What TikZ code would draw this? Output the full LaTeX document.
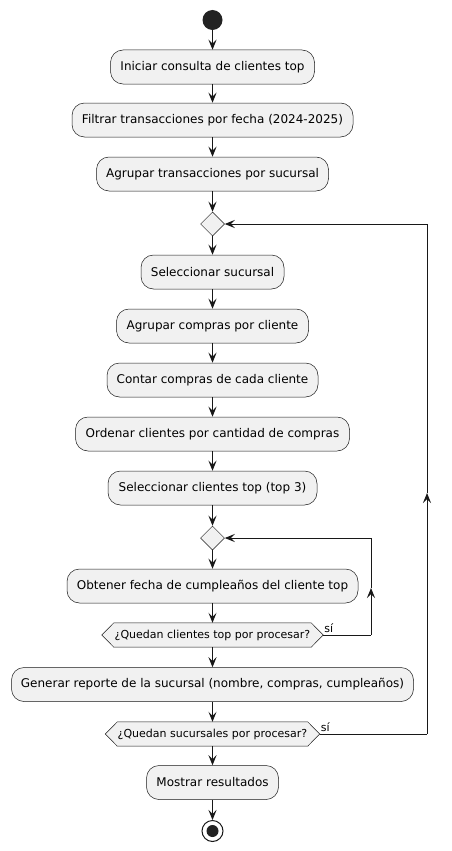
\documentclass[tikz,border=0pt]{standalone}
\usepackage{fontspec}
\setmainfont{DejaVu Sans}
\usetikzlibrary{arrows.meta,shapes.geometric}
\definecolor{boxfill}{HTML}{F1F1F1}
\definecolor{linec}{HTML}{181818}
\definecolor{startc}{HTML}{222222}
\tikzset{
  actbox/.style={draw=linec, fill=boxfill, line width=0.5pt, rounded corners=12.5pt,
    minimum height=34pt, inner sep=0pt, font=\fontsize{12}{14}\selectfont, text=black},
  decis/.style={diamond, draw=linec, fill=boxfill, line width=0.5pt, minimum width=24pt,
    minimum height=24pt, inner sep=0pt},
  hextext/.style={minimum height=24pt, inner sep=0pt, font=\fontsize{11}{13}\selectfont, text=black},
  hexshape/.style={draw=linec, fill=boxfill, line width=0.5pt},
  flow/.style={draw=linec, line width=1pt, -{Stealth[length=10pt,width=8pt,inset=4pt]}},
  plain/.style={draw=linec, line width=1pt},
  lbl/.style={font=\fontsize{11}{13}\selectfont, inner sep=0pt, anchor=south west, text=black}
}
\begin{document}
\begin{tikzpicture}[x=1pt,y=-1pt]
\useasboundingbox[fill=white] (0,0) rectangle (451,851);
\def\cx{212.5}
\node[circle, fill=startc, minimum size=20pt, inner sep=0pt] (start) at (\cx,20) {};
\node[actbox, minimum width=204pt] (b1) at (\cx,67) {Iniciar consulta de clientes top};
\node[actbox, minimum width=281pt] (b2) at (\cx,120) {Filtrar transacciones por fecha (2024-2025)};
\node[actbox, minimum width=232pt] (b3) at (\cx,174) {Agrupar transacciones por sucursal};
\node[decis] (d1) at (\cx,224) {};
\node[actbox, minimum width=143pt] (b4) at (\cx,272) {Seleccionar sucursal};
\node[actbox, minimum width=192pt] (b5) at (\cx,326) {Agrupar compras por cliente};
\node[actbox, minimum width=211pt] (b6) at (\cx,380) {Contar compras de cada cliente};
\node[actbox, minimum width=274pt] (b7) at (\cx,434) {Ordenar clientes por cantidad de compras};
\node[actbox, minimum width=209pt] (b8) at (\cx,488) {Seleccionar clientes top (top 3)};
\node[decis] (d2) at (\cx,538) {};
\node[actbox, minimum width=291pt] (b9) at (\cx,586) {Obtener fecha de cumpleaños del cliente top};
% hexagon 1
\node[hextext, minimum width=221pt] (h1) at (\cx,635) {};
\path[hexshape] (h1.west) -- ([xshift=12pt]h1.north west) -- ([xshift=-12pt]h1.north east) -- (h1.east)
  -- ([xshift=-12pt]h1.south east) -- ([xshift=12pt]h1.south west) -- cycle;
\node[hextext] at (h1.center) {¿Quedan clientes top por procesar?};
\node[actbox, minimum width=402pt] (b10) at (\cx,684.5) {Generar reporte de la sucursal (nombre, compras, cumpleaños)};
% hexagon 2
\node[hextext, minimum width=214pt] (h2) at (\cx,734) {};
\path[hexshape] (h2.west) -- ([xshift=12pt]h2.north west) -- ([xshift=-12pt]h2.north east) -- (h2.east)
  -- ([xshift=-12pt]h2.south east) -- ([xshift=12pt]h2.south west) -- cycle;
\node[hextext] at (h2.center) {¿Quedan sucursales por procesar?};
\node[actbox, minimum width=132pt] (b11) at (\cx,782.5) {Mostrar resultados};
% end
\node[circle, draw=linec, line width=1pt, fill=white, minimum size=21pt, inner sep=0pt] (stop) at (\cx,831) {};
\node[circle, fill=startc, minimum size=12pt, inner sep=0pt] at (stop.center) {};

% main flow
\draw[flow] (start) -- (b1);
\draw[flow] (b1) -- (b2);
\draw[flow] (b2) -- (b3);
\draw[flow] (b3) -- (d1);
\draw[flow] (d1) -- (b4);
\draw[flow] (b4) -- (b5);
\draw[flow] (b5) -- (b6);
\draw[flow] (b6) -- (b7);
\draw[flow] (b7) -- (b8);
\draw[flow] (b8) -- (d2);
\draw[flow] (d2) -- (b9);
\draw[flow] (b9) -- (h1);
\draw[flow] (h1) -- (b10);
\draw[flow] (b10) -- (h2);
\draw[flow] (h2) -- (b11);
\draw[flow] (b11) -- (stop);

% inner loop
\coordinate (l2a) at (371,635);
\coordinate (l2m) at (371,588);
\coordinate (l2b) at (371,538);
\draw[plain] (h1.east) -- (l2a);
\draw[flow] (l2a) -- (l2m);
\draw[plain] (l2m) -- (l2b);
\draw[flow] (l2b) -- (d2.east);
\node[lbl] at ([xshift=1pt,yshift=2pt]h1.east) {sí};

% outer loop
\coordinate (l1a) at (427,734);
\coordinate (l1m) at (427,493);
\coordinate (l1b) at (427,224);
\draw[plain] (h2.east) -- (l1a);
\draw[flow] (l1a) -- (l1m);
\draw[plain] (l1m) -- (l1b);
\draw[flow] (l1b) -- (d1.east);
\node[lbl] at ([xshift=1pt,yshift=2pt]h2.east) {sí};
\end{tikzpicture}
\end{document}
